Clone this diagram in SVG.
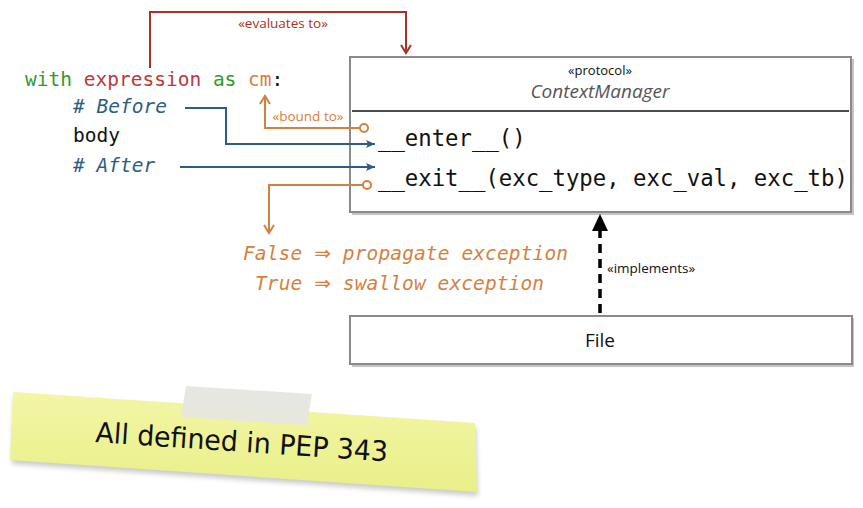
<svg xmlns="http://www.w3.org/2000/svg" width="863" height="508" viewBox="0 0 863 508">
<style>
.code{font-family:"DejaVu Sans Mono","Liberation Mono",monospace;font-size:19.5px}
.meth{font-family:"DejaVu Sans Mono","Liberation Mono",monospace;font-size:22.3px;fill:#111}
.ui{font-family:"Open Sans","Liberation Sans",sans-serif}
.box{fill:#fff;stroke:#8a8a8a;stroke-width:2}
.shadow{fill:#c4c4c4}
.blue{stroke:#2c5d87;stroke-width:2;fill:none}
.orange{stroke:#d4813e;stroke-width:2;fill:none}
.red{stroke:#a83228;stroke-width:2;fill:none}
.arr{font-family:"DejaVu Sans",sans-serif;font-style:normal;font-size:20px}
</style>
<defs>
<marker id="blueHead" markerWidth="10" markerHeight="10" refX="9" refY="5" orient="auto" markerUnits="userSpaceOnUse">
<path d="M0,1 L9,5 L0,9 L2,5 Z" fill="#2c5d87"/>
</marker>
<marker id="orangeV" markerWidth="12" markerHeight="12" refX="10" refY="6" orient="auto" markerUnits="userSpaceOnUse">
<path d="M2,1 L10,6 L2,11" fill="none" stroke="#d4813e" stroke-width="2"/>
</marker>
<marker id="redV" markerWidth="12" markerHeight="12" refX="10" refY="6" orient="auto" markerUnits="userSpaceOnUse">
<path d="M2,1 L10,6 L2,11" fill="none" stroke="#a83228" stroke-width="2"/>
</marker>
<linearGradient id="note" x1="0" y1="0" x2="0" y2="1">
<stop offset="0" stop-color="#f2f6a6"/>
<stop offset="1" stop-color="#e9ef88"/>
</linearGradient>
<filter id="blur" x="-10%" y="-20%" width="120%" height="150%">
<feGaussianBlur stdDeviation="2.5"/>
</filter>
</defs>

<g id="code">
<text class="code" x="25" y="86"><tspan fill="#2e9a2e">with</tspan> <tspan fill="#b83a3a">expression</tspan> <tspan fill="#2e9a2e">as</tspan> <tspan fill="#d4813e">cm</tspan><tspan fill="#111">:</tspan></text>
<text class="code" x="73" y="113" fill="#2c5d87" font-style="italic"># Before</text>
<text class="code" x="73" y="142" fill="#111">body</text>
<text class="code" x="73" y="172" fill="#2c5d87" font-style="italic"># After</text>
</g>

<g id="context-manager">
<rect class="shadow" x="352" y="59" width="502" height="156"/>
<rect class="box" x="350" y="57" width="501" height="155"/>
<text class="ui" x="600" y="75" text-anchor="middle" font-size="13" fill="#111">«protocol»</text>
<text class="ui" x="600" y="98" text-anchor="middle" font-size="19" font-style="italic" fill="#555">ContextManager</text>
<line x1="352" y1="111" x2="849" y2="111" stroke="#111" stroke-width="1.6"/>
<text class="meth" x="378" y="146">__enter__()</text>
<text class="meth" x="378" y="186">__exit__(exc_type, exc_val, exc_tb)</text>
</g>

<g id="file">
<rect class="shadow" x="352" y="318" width="502" height="49"/>
<rect class="box" x="350" y="316" width="502" height="48"/>
<text class="ui" x="600" y="347" text-anchor="middle" font-size="19" fill="#111">File</text>
</g>

<g id="results">
<text class="code" x="243" y="260" fill="#d4813e" font-style="italic" font-size="19.8" textLength="325" lengthAdjust="spacing">False <tspan class="arr">⇒</tspan> propagate exception</text>
<text class="code" x="255" y="290" fill="#d4813e" font-style="italic" font-size="19.8" textLength="289" lengthAdjust="spacing">True <tspan class="arr">⇒</tspan> swallow exception</text>
</g>

<g id="connectors">
<polyline class="red" points="150,68 150,12 406,12 406,53" marker-end="url(#redV)"/>
<text class="ui" x="283" y="28" text-anchor="middle" font-size="13.5" fill="#a83228">«evaluates to»</text>
<polyline class="orange" points="360,128 265,128 265,96" marker-end="url(#orangeV)"/>
<circle cx="364" cy="128" r="4" fill="#fff" stroke="#d4813e" stroke-width="2"/>
<text class="ui" x="308" y="121" text-anchor="middle" font-size="13.5" fill="#d4813e">«bound to»</text>
<polyline class="blue" points="185,108 226,108 226,144 375,144" marker-end="url(#blueHead)"/>
<line class="blue" x1="180" y1="167" x2="375" y2="167" marker-end="url(#blueHead)"/>
<polyline class="orange" points="363,185 269,185 269,233" marker-end="url(#orangeV)"/>
<circle cx="367" cy="185" r="4" fill="#fff" stroke="#d4813e" stroke-width="2"/>
<line x1="600" y1="313" x2="600" y2="230" stroke="#000" stroke-width="3.5" stroke-dasharray="9,6"/>
<polygon points="600,214 592,231 608,231" fill="#000"/>
<text class="ui" x="607" y="273" font-size="13.5" fill="#111">«implements»</text>
</g>

<g id="sticky-note">
<polygon points="14,396 476,427 478,496 12,464" fill="#999" opacity="0.5" filter="url(#blur)"/>
<polygon points="13,392 475,423 477,492 10,460" fill="url(#note)"/>
<polygon points="186,386 312,394 307,425 181,417" fill="#e6e6e0" opacity="0.95"/>
<text x="95" y="442" transform="rotate(3.8 95 442)" font-family="'DejaVu Sans','Liberation Sans',sans-serif" font-size="28" fill="#111" textLength="293" lengthAdjust="spacingAndGlyphs">All defined in PEP 343</text>
</g>
</svg>
